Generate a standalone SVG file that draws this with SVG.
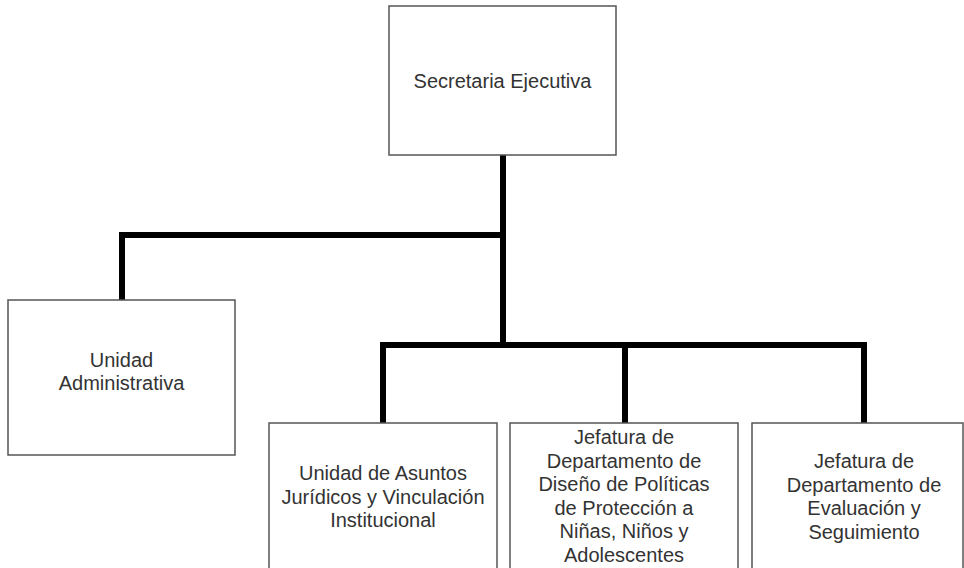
<svg xmlns="http://www.w3.org/2000/svg" width="964" height="568" viewBox="0 0 964 568">
<style>
.box{fill:#fff;stroke:#555;stroke-width:1.5}
.lbl{font-family:"Liberation Sans",Arial,sans-serif;font-size:20px;fill:#333;text-anchor:middle}
.conn{fill:none;stroke:#000;stroke-width:6;stroke-linejoin:miter;stroke-linecap:butt}
</style>
<rect width="964" height="568" fill="#fff"/>
<g id="connectors">
<path class="conn" d="M503 155 V345"/>
<path class="conn" d="M503 235 H122 V300"/>
<path class="conn" d="M383 423 V345 H864 V423"/>
<path class="conn" d="M625 345 V423"/>
</g>
<g id="secretaria">
<rect class="box" x="389" y="6" width="227" height="149"/>
<text class="lbl" x="502.5" y="88">Secretaria Ejecutiva</text>
</g>
<g id="unidad-administrativa">
<rect class="box" x="8" y="300" width="227" height="155"/>
<text class="lbl" x="121.5" y="367">Unidad</text>
<text class="lbl" x="121.5" y="390">Administrativa</text>
</g>
<g id="unidad-asuntos">
<rect class="box" x="269" y="423" width="228" height="160"/>
<text class="lbl" x="383" y="480">Unidad de Asuntos</text>
<text class="lbl" x="383" y="503.5">Jurídicos y Vinculación</text>
<text class="lbl" x="383" y="527">Institucional</text>
</g>
<g id="jefatura-diseno">
<rect class="box" x="510" y="423" width="228" height="160"/>
<text class="lbl" x="624" y="444">Jefatura de</text>
<text class="lbl" x="624" y="467.5">Departamento de</text>
<text class="lbl" x="624" y="491">Diseño de Políticas</text>
<text class="lbl" x="624" y="514.5">de Protección a</text>
<text class="lbl" x="624" y="538">Niñas, Niños y</text>
<text class="lbl" x="624" y="561.5">Adolescentes</text>
</g>
<g id="jefatura-evaluacion">
<rect class="box" x="752" y="423" width="211" height="160"/>
<text class="lbl" x="864" y="468">Jefatura de</text>
<text class="lbl" x="864" y="491.5">Departamento de</text>
<text class="lbl" x="864" y="515">Evaluación y</text>
<text class="lbl" x="864" y="538.5">Seguimiento</text>
</g>
</svg>
